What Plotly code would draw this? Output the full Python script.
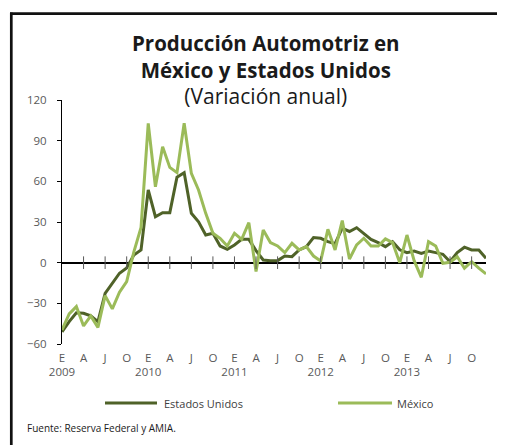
import plotly.graph_objects as go

# Monthly data Jan 2009 - Dec 2013 (annual % change)
months_idx = list(range(60))
estados_unidos = [
    -51, -43.5, -37, -37.3, -39.3, -43.5, -22.6, -15.2, -7.8, -4, 5.7, 9.4,
    53.6, 33.9, 36.9, 36.9, 63, 66.4, 36.4, 30.2, 20.4, 21.7, 12.3, 9.9,
    13.1, 17.2, 17.2, 8.9, 2, 1.5, 1.5, 4.9, 4.4, 9.4, 11.8, 18.5,
    18, 15.5, 14, 25.4, 23, 25.8, 21.7, 17.2, 14.8, 11.8, 15.5, 9.5,
    7.4, 8.6, 6.9, 8.6, 7.4, 6.2, 0.7, 7.4, 11.4, 9.4, 9.4, 3.2,
]
mexico = [
    -49.6, -37.8, -32.4, -46.7, -39.3, -47.7, -24.3, -34.1, -21.8, -14, 8, 26,
    102.8, 56, 85.5, 70.3, 66.4, 102.8, 65.9, 53.6, 36.4, 21.7, 18, 12.3,
    21.7, 17.2, 29.5, -6.6, 24.1, 14.8, 12.3, 7.4, 14.3, 9.4, 11.8, 4.9,
    1.3, 24.6, 9.4, 31, 2.7, 13.1, 18, 12.3, 12.3, 17.5, 14.8, 0,
    20.4, 1.5, -10.8, 15.5, 12.3, -0.5, 0.3, 4.4, -4.1, 0.7, -4.1, -8.3,
]
series_names = ["Estados Unidos", "México"]
quarter_idx = list(range(0, 60, 3))
quarter_letters = ["E", "A", "J", "O"] * 5
years = ["2009", "2010", "2011", "2012", "2013"]
tick_text = [
    (f"{q}<br>{years[i // 4]}" if q == "E" else f"{q}<br> ")
    for i, q in enumerate(quarter_letters)
]
y_ticks = [-60, -30, 0, 30, 60, 90, 120]

DARK = "#4F6228"
LIGHT = "#9BBB59"
GRAY = "#595959"
TXT = "#1a1a1a"
FONT = "Open Sans, Lato, sans-serif"

fig = go.Figure()
fig.add_trace(go.Scatter(
    x=months_idx, y=estados_unidos, mode="lines", name=series_names[0],
    line=dict(color=DARK, width=3), cliponaxis=False))
fig.add_trace(go.Scatter(
    x=months_idx, y=mexico, mode="lines", name=series_names[1],
    line=dict(color=LIGHT, width=3), cliponaxis=False))
# quarter tick marks crossing the zero line
fig.add_trace(go.Scatter(
    x=quarter_idx[1:], y=[0] * (len(quarter_idx) - 1), mode="markers",
    marker=dict(symbol="line-ns", size=9, line=dict(color=GRAY, width=1)),
    showlegend=False, hoverinfo="skip", cliponaxis=False))

# page offset (browser body margin)
OFF = 8
W, H = 505 - OFF, 445 - OFF
L, R, T, B = 62 - OFF, 19, 100 - OFF, 101
pw, ph = W - L - R, H - T - B


def px(xp):
    """page pixel x -> paper fraction"""
    return (xp - OFF - L) / pw


def py(yp):
    """page pixel y -> paper fraction"""
    return (H - B - (yp - OFF)) / ph


annotations = [
    dict(x=px(266), y=py(70),
         text=("<b>Producción Automotriz en<br>México y Estados Unidos</b>"
               "<br><span style='font-size:21px'>(Variación anual)</span>"),
         xanchor="center", align="center",
         font=dict(size=20.5, color=TXT, family=FONT)),
    dict(x=px(25), y=py(428), text="Fuente: Reserva Federal y AMIA.",
         xanchor="left", font=dict(size=10, color=TXT, family=FONT)),
    dict(x=px(162), y=py(403), text=series_names[0],
         xanchor="left", font=dict(size=11, color="#404040", family=FONT)),
    dict(x=px(395), y=py(403), text=series_names[1],
         xanchor="left", font=dict(size=11, color="#404040", family=FONT)),
]
for a in annotations:
    a.update(xref="paper", yref="paper", yanchor="middle", showarrow=False)

shapes = [
    # frame
    dict(type="line", x0=px(11.3), x1=px(11.3), y0=py(12.4), y1=py(446),
         line=dict(color="#111111", width=2.7)),
    dict(type="line", x0=px(10), x1=px(505), y0=py(13.7), y1=py(13.7),
         line=dict(color="#111111", width=2.7)),
    # legend keys
    dict(type="line", x0=px(105), x1=px(157), y0=py(403), y1=py(403),
         line=dict(color=DARK, width=3)),
    dict(type="line", x0=px(338), x1=px(392), y0=py(403), y1=py(403),
         line=dict(color=LIGHT, width=3)),
]
for s in shapes:
    s.update(xref="paper", yref="paper")

fig.update_layout(
    width=W, height=H,
    margin=dict(l=L, r=R, t=T, b=B, pad=0),
    paper_bgcolor="white", plot_bgcolor="white",
    font=dict(family=FONT, color=GRAY, size=11),
    showlegend=False,
    xaxis=dict(range=[0, 59], showgrid=False, zeroline=False, showline=False,
               tickmode="array", tickvals=quarter_idx, ticktext=tick_text,
               ticks="", tickfont=dict(size=11.5, color=GRAY),
               ticklabelstandoff=5, fixedrange=True),
    yaxis=dict(range=[-60, 120], showgrid=False, zeroline=True,
               zerolinecolor="black", zerolinewidth=1.5,
               showline=True, linecolor="black", linewidth=1,
               tickmode="array", tickvals=y_ticks, ticks="outside",
               ticklen=4, tickcolor="black", ticklabelstandoff=8,
               tickfont=dict(size=11.5, color=GRAY), fixedrange=True),
    annotations=annotations,
    shapes=shapes,
)

fig.write_html("out.html")
